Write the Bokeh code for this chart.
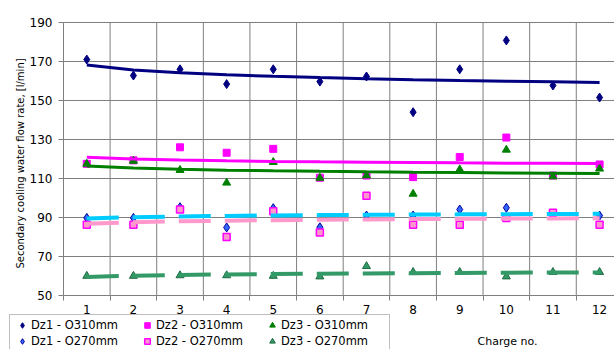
import numpy as np
from bokeh.plotting import figure
from bokeh.models import (Range1d, FixedTicker, Legend, LegendItem, Label)
from bokeh.embed import file_html
from bokeh.resources import INLINE

# ---- data ----
charge = [1, 2, 3, 4, 5, 6, 7, 8, 9, 10, 11, 12]
tick_labels = ["1", "2", "3", "4", "5", "6", "7", "8", "9", "10", "11", "12"]
y_ticks = [50, 70, 90, 110, 130, 150, 170, 190]

dz1_310 = [171.0, 162.8, 166.0, 158.4, 166.0, 159.7, 162.3, 144.0, 166.0, 180.8, 157.7, 151.5]
dz2_310 = [117.5, 119.3, 126.0, 123.2, 125.2, 110.4, 111.5, 110.7, 121.0, 131.0, 111.5, 117.2]
dz3_310 = [117.5, 119.0, 114.3, 107.8, 118.4, 110.3, 111.5, 102.1, 114.6, 124.7, 111.0, 115.0]
dz1_270 = [89.8, 89.8, 95.3, 84.9, 94.8, 85.0, 91.0, 91.0, 94.1, 95.0, 91.5, 91.0]
dz2_270 = [86.3, 86.3, 94.1, 80.0, 93.2, 82.3, 101.1, 86.3, 86.3, 89.7, 92.4, 86.3]
dz3_270 = [60.0, 60.0, 60.3, 60.3, 60.0, 59.7, 65.0, 62.0, 62.0, 59.7, 62.0, 62.0]

series_names = ["Dz1 - O310mm", "Dz2 - O310mm", "Dz3 - O310mm",
                "Dz1 - O270mm", "Dz2 - O270mm", "Dz3 - O270mm"]
y_title = "Secondary cooling water flow rate, [l/min]"
x_title = "Charge no."

FONT = "DejaVu Sans"
GRID = "#7f7f7f"

x_lo, x_hi = charge[0] - 0.5, charge[-1] + 0.5
y_lo, y_hi = y_ticks[0], y_ticks[-1]

# the frame covers the whole canvas; axes are pinned at the chart's origin
p = figure(width=614, height=349, output_backend="svg", toolbar_location=None,
           x_range=Range1d(-0.851, 12.32), y_range=Range1d(22.31, 201.28))
p.min_border_left = 0
p.min_border_right = 0
p.min_border_top = 0
p.min_border_bottom = 0
p.outline_line_color = None
p.background_fill_color = "white"
p.border_fill_color = "white"
p.xgrid.visible = False
p.ygrid.visible = False

# grid lines limited to the chart area
bounds_x = [c + 0.5 for c in charge[:-1]]
p.segment(x0=bounds_x, y0=[y_lo] * len(bounds_x), x1=bounds_x, y1=[y_hi] * len(bounds_x),
          line_color=GRID, line_width=1)
p.segment(x0=[x_lo] * (len(y_ticks) - 1), y0=y_ticks[1:], x1=[x_hi] * (len(y_ticks) - 1),
          y1=y_ticks[1:], line_color=GRID, line_width=1)

# axes
xa = p.xaxis[0]
xa.fixed_location = y_lo
xa.bounds = (x_lo, x_hi)
xa.ticker = FixedTicker(ticks=charge, minor_ticks=[c - 0.5 for c in charge] + [x_hi])
xa.major_label_overrides = {c: t for c, t in zip(charge, tick_labels)}
xa.major_tick_out = 0
xa.major_tick_in = 0
xa.minor_tick_out = 5
xa.minor_tick_in = 0
xa.minor_tick_line_color = GRID
xa.axis_line_color = GRID
xa.major_label_standoff = 4
xa.major_label_text_font = FONT
xa.major_label_text_font_size = "12px"
xa.major_label_text_color = "black"

ya = p.yaxis[0]
ya.fixed_location = x_lo
ya.bounds = (y_lo, y_hi)
ya.ticker = FixedTicker(ticks=y_ticks)
ya.major_tick_out = 5
ya.major_tick_in = 0
ya.minor_tick_out = 0
ya.minor_tick_in = 0
ya.major_tick_line_color = GRID
ya.axis_line_color = GRID
ya.major_label_standoff = 6
ya.major_label_text_font = FONT
ya.major_label_text_font_size = "12px"
ya.major_label_text_color = "black"

# markers
r1 = p.scatter(charge, dz1_310, marker="diamond", size=9, fill_color="#000080", line_color="#000080")
r2 = p.scatter(charge, dz2_310, marker="square", size=7, fill_color="#FF00FF", line_color="#FF00FF")
r3 = p.scatter(charge, dz3_310, marker="triangle", size=8, fill_color="#008000", line_color="#008000")
r4 = p.scatter(charge, dz1_270, marker="diamond", size=9, fill_color="#3366FF", line_color="#000099")
r5 = p.scatter(charge, dz2_270, marker="square", size=7, fill_color="#FF99CC", line_color="#FF00FF", line_width=1.5)
r6 = p.scatter(charge, dz3_270, marker="triangle", size=8, fill_color="#339966", line_color="#1f6b44")

# logarithmic trend lines (least-squares fit of the data, as the original chart)
xs = np.array(charge, dtype=float)
def log_trend(vals):
    b, a = np.polyfit(np.log(xs), np.array(vals, dtype=float), 1)
    return a + b * np.log(xs)

p.line(charge, log_trend(dz1_310), line_color="#000080", line_width=3)
p.line(charge, log_trend(dz2_310), line_color="#FF00FF", line_width=3)
p.line(charge, log_trend(dz3_310), line_color="#008000", line_width=3)
p.line(charge, log_trend(dz1_270), line_color="#00CCFF", line_width=4, line_dash="32 14")
p.line(charge, log_trend(dz2_270), line_color="#FF99CC", line_width=4, line_dash="32 14")
p.line(charge, log_trend(dz3_270), line_color="#339966", line_width=4, line_dash="32 14")

legend = Legend(items=[LegendItem(label=n, renderers=[r]) for n, r in
                       zip(series_names, [r1, r2, r3, r4, r5, r6])],
                location=(9, -3), orientation="horizontal", ncols=3,
                padding=3, spacing=2, margin=0,
                glyph_width=18, glyph_height=14, label_height=14,
                label_width=105, label_standoff=0,
                label_text_font=FONT, label_text_font_size="11.5px",
                label_text_color="black",
                border_line_color="#808080", border_line_width=1,
                background_fill_color="white", background_fill_alpha=1.0)
p.add_layout(legend, "center")

p.add_layout(Label(x=10.025, y=26.4, text=x_title, text_font=FONT,
                   text_font_size="11px", text_align="center", text_baseline="middle",
                   text_color="black"))
p.add_layout(Label(x=-0.422, y=117.7, text=y_title, text_font=FONT, angle=np.pi / 2,
                   text_font_size="10px", text_align="center", text_baseline="middle",
                   text_color="black"))

open("out.html", "w").write(file_html(p, INLINE))
